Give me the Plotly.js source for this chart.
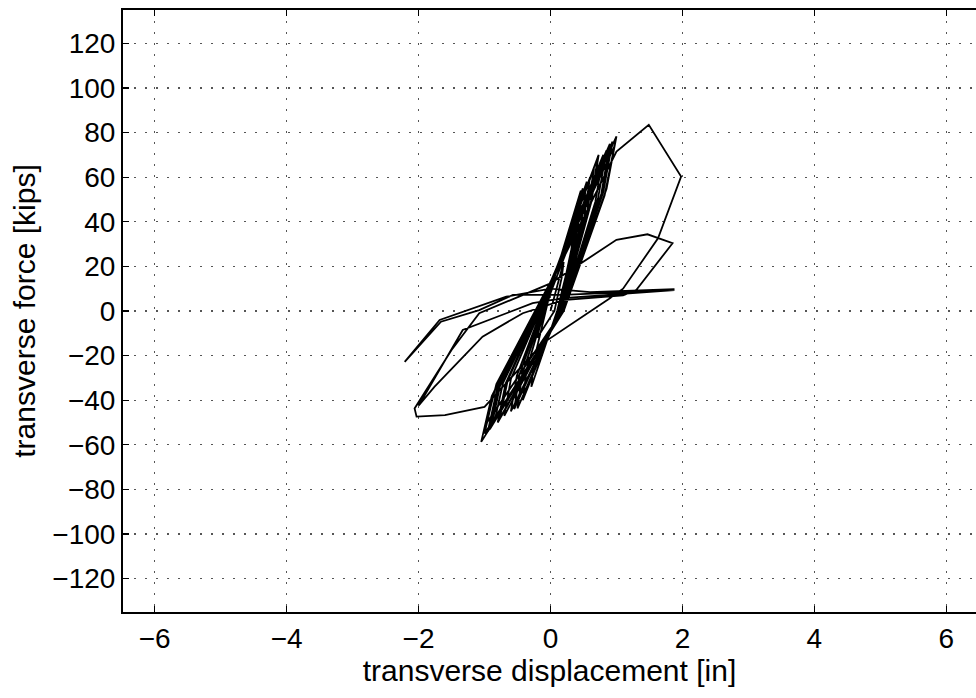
<!DOCTYPE html>
<html><head><meta charset="utf-8">
<script src="https://cdn.plot.ly/plotly-3.0.1.min.js"></script>
<style>html,body{margin:0;padding:0;background:#fff;overflow:hidden}</style>
</head><body><div id="chart" style="width:976px;height:698px"></div>
<script>
// small-amplitude cycles (dense band), displacement [in] / force [kips]
const bandDisp  = [0,
  0.2, 0.17, 0.06, -0.2, -0.17, 0,
  0.35, 0.3, 0.1, -0.29, -0.25, 0,
  0.46, 0.39, 0.12, -0.42, -0.36, 0,
  0.49, 0.42, 0.14, -0.5, -0.43, 0,
  0.55, 0.47, 0.13, -0.55, -0.47, 0,
  0.6, 0.51, 0.15, -0.6, -0.51, 0,
  0.66, 0.56, 0.15, -0.7, -0.6, 0,
  0.72, 0.61, 0.16, -0.77, -0.65, 0,
  0.73, 0.62, 0.17, -0.85, -0.72, 0,
  0.85, 0.72, 0.18, -0.89, -0.76, 0,
  0.94, 0.8, 0.18, -0.97, -0.82, 0,
  1.0, 0.85, 0.2, -1.05, -0.89, 0,
  0.97, 0.82, 0.2, -1.0, -0.85, 0,
  0.9, 0.77, 0.19, -0.95, -0.81, 0,
  0.9, 0.77, 0.18, -0.92, -0.78, 0,
  0.8, 0.68, 0.17, -0.8, -0.68, 0];
const bandForce = [0,
  22, 15, 0, -12, -8, 8,
  35, 24, 0, -34, -22, 9,
  54, 38, 0, -40, -26, 10,
  55, 38.5, 0, -43.7, -28.4, 10,
  58, 40.6, 0, -44, -28.6, 11,
  60, 42, 0, -45, -29, 11,
  64, 45, 0, -47, -30.5, 11,
  69.3, 48.5, 0, -48.2, -31.3, 12,
  70, 49, 0, -49.7, -32.3, 12,
  72, 50.4, 0, -51, -33, 12,
  76, 53.2, 0, -50.4, -32.8, 13,
  78.3, 54.8, 0, -58.7, -38.2, 13,
  74, 51.8, 0, -55, -35.8, 13,
  75, 52.5, 0, -54, -35, 12,
  73, 51, 0, -53, -34.5, 12,
  70, 49, 0, -50, -32.5, 12];
// large-amplitude excursions
const bigDisp  = [1.0, 1.49, 1.98, 1.63, 1.1, 0.89, 0, -0.12, -1.0, -1.6, -2.03, -2.06, -1.5, -1.08, 0, 0.39, 1.0, 1.47, 1.85,
                  1.3, 1.1, 0.19, -0.42, -1.03, -1.76, -2.0, -1.33, -0.27, 0.19, 1.88, 0.19, -0.57, -1.08, -1.66, -2.21,
                  -1.68, -0.67, 0, 0.6, 1.88];
const bigForce = [71.5, 83.5, 60.3, 32.6, 10, 5.5, -12.3, -14.5, -43, -46.7, -47.4, -43.7, -17.5, -1, 12.4, 19.9, 31.9, 34.4, 30.4,
                  9.4, 7, 4.9, -1, -11.5, -34, -42.5, -8.5, 3.5, 5.8, 9.4, 7.2, 7.2, 0.4, -4.8, -22.8,
                  -4, 6.4, 10, 8.5, 9.8];
const xTicks = [-6, -4, -2, 0, 2, 4, 6];
const yTicks = [-120, -100, -80, -60, -40, -20, 0, 20, 40, 60, 80, 100, 120];

const xs = bandDisp.concat(bigDisp);
const ys = bandForce.concat(bigForce);

const font = {family: '"Liberation Sans", Arial, Helvetica, sans-serif', color: '#000'};
const axisCommon = {
  showline: true, linecolor: '#000', linewidth: 2,
  ticks: 'inside', ticklen: 6, tickwidth: 1.2, tickcolor: '#000',
  showgrid: true, gridcolor: '#555', griddash: '2px,9px', gridwidth: 1.2,
  zeroline: false, tickfont: Object.assign({size: 28}, font)
};
const layout = {
  width: 976, height: 698,
  margin: {l: 123, r: 0, t: 10, b: 86},
  paper_bgcolor: '#fff', plot_bgcolor: '#fff',
  showlegend: false,
  xaxis: Object.assign({}, axisCommon, {
    range: [-6.48, 6.45], tickmode: 'array', tickvals: xTicks,
    mirror: 'ticks',
    title: {text: 'transverse displacement [in]', font: Object.assign({size: 30}, font), standoff: 2}
  }),
  yaxis: Object.assign({}, axisCommon, {
    range: [-135, 135], tickmode: 'array', tickvals: yTicks,
    title: {text: 'transverse force [kips]', font: Object.assign({size: 30}, font), standoff: 8}
  })
};
Plotly.newPlot('chart', [{
  x: xs, y: ys, type: 'scatter', mode: 'lines',
  line: {color: '#000', width: 1.8}
}], layout, {displayModeBar: false, staticPlot: true});
</script></body></html>
